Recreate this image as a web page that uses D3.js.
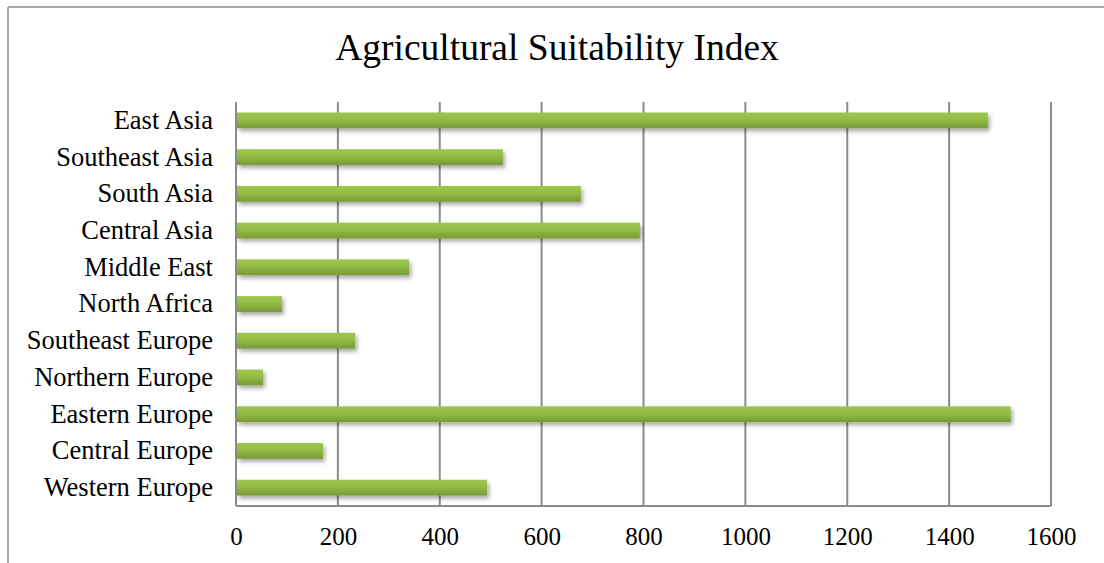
<!DOCTYPE html>
<html>
<head>
<meta charset="utf-8">
<script src="https://cdn.jsdelivr.net/npm/d3@7"></script>
<style>
  html, body { margin: 0; padding: 0; background: #fff; }
  svg { display: block; }
  text { font-family: "Liberation Serif", "Times New Roman", serif; fill: #000; }
</style>
</head>
<body>
<svg id="chart" width="1104" height="563"></svg>
<script>
// Regions, listed top to bottom
const regions = ["East Asia", "Southeast Asia", "South Asia", "Central Asia", "Middle East",
  "North Africa", "Southeast Europe", "Northern Europe", "Eastern Europe", "Central Europe", "Western Europe"];
// Index value per region
const suitability = [1476, 524, 677, 793, 340, 90, 234, 53, 1521, 171, 493];
// Axis ticks
const xTicks = [0, 200, 400, 600, 800, 1000, 1200, 1400, 1600];
const chartTitle = "Agricultural Suitability Index";

const data = regions.map((r, i) => ({ region: r, value: suitability[i] }));

const svg = d3.select("#chart");
const W = 1104, H = 563;
const plot = { left: 236, right: 1051, top: 102, bottom: 506 };

// Outer frame (top and left edges visible)
svg.append("line").attr("x1", 8).attr("x2", W).attr("y1", 7).attr("y2", 7)
  .attr("stroke", "#8c8c8c").attr("stroke-width", 1.5);
svg.append("line").attr("x1", 8).attr("x2", 8).attr("y1", 7).attr("y2", H)
  .attr("stroke", "#8c8c8c").attr("stroke-width", 1.5);

const x = d3.scaleLinear().domain([0, 1600]).range([plot.left, plot.right]);
const y = d3.scaleBand().domain(regions).range([plot.top, plot.bottom]).paddingInner(0.57).paddingOuter(0.285);

const defs = svg.append("defs");
const grad = defs.append("linearGradient").attr("id", "barFill")
  .attr("x1", 0).attr("y1", 0).attr("x2", 0).attr("y2", 1);
grad.append("stop").attr("offset", "0%").attr("stop-color", "#9dc84b");
grad.append("stop").attr("offset", "45%").attr("stop-color", "#93bc45");
grad.append("stop").attr("offset", "100%").attr("stop-color", "#789a36");

const shadow = defs.append("filter").attr("id", "barShadow")
  .attr("x", "-10%").attr("y", "-50%").attr("width", "130%").attr("height", "250%");
shadow.append("feGaussianBlur").attr("in", "SourceAlpha").attr("stdDeviation", 2.2).attr("result", "blur");
shadow.append("feOffset").attr("in", "blur").attr("dx", 2).attr("dy", 3).attr("result", "off");
shadow.append("feComponentTransfer").attr("in", "off").attr("result", "soft")
  .append("feFuncA").attr("type", "linear").attr("slope", 0.35);
const merge = shadow.append("feMerge");
merge.append("feMergeNode").attr("in", "soft");
merge.append("feMergeNode").attr("in", "SourceGraphic");

// Vertical gridlines
svg.append("g").selectAll("line").data(xTicks.slice(1)).join("line")
  .attr("x1", d => x(d)).attr("x2", d => x(d))
  .attr("y1", plot.top).attr("y2", plot.bottom)
  .attr("stroke", "#8c8c8c").attr("stroke-width", 2);

// Bottom axis line and left axis line
svg.append("line").attr("x1", plot.left).attr("x2", plot.right).attr("y1", plot.bottom).attr("y2", plot.bottom)
  .attr("stroke", "#8c8c8c").attr("stroke-width", 2);
svg.append("line").attr("x1", plot.left).attr("x2", plot.left).attr("y1", plot.top).attr("y2", plot.bottom)
  .attr("stroke", "#8c8c8c").attr("stroke-width", 2);

// Bars
svg.append("g").selectAll("rect").data(data).join("rect")
  .attr("x", x(0) + 1)
  .attr("y", d => y(d.region))
  .attr("width", d => x(d.value) - x(0) - 1)
  .attr("height", y.bandwidth())
  .attr("fill", "url(#barFill)")
  .attr("filter", "url(#barShadow)");

// Category labels
const yAxis = d3.axisLeft(y).tickSize(0).tickPadding(23);
const gy = svg.append("g").attr("transform", `translate(${plot.left},0)`).call(yAxis);
gy.select(".domain").remove();
gy.selectAll("text").attr("font-size", 26.5).style("font-family", '"Liberation Serif", serif').attr("fill", "#000");

// Value axis labels
const xAxis = d3.axisBottom(x).tickValues(xTicks).tickSize(0).tickPadding(21).tickFormat(d3.format("d"));
const gx = svg.append("g").attr("transform", `translate(0,${plot.bottom})`).call(xAxis);
gx.select(".domain").remove();
gx.selectAll("text").attr("font-size", 25).style("font-family", '"Liberation Serif", serif').attr("fill", "#000");

// Title
svg.append("text").attr("x", 557).attr("y", 59.5).attr("text-anchor", "middle")
  .attr("font-size", 37.5).text(chartTitle);
</script>
</body>
</html>
